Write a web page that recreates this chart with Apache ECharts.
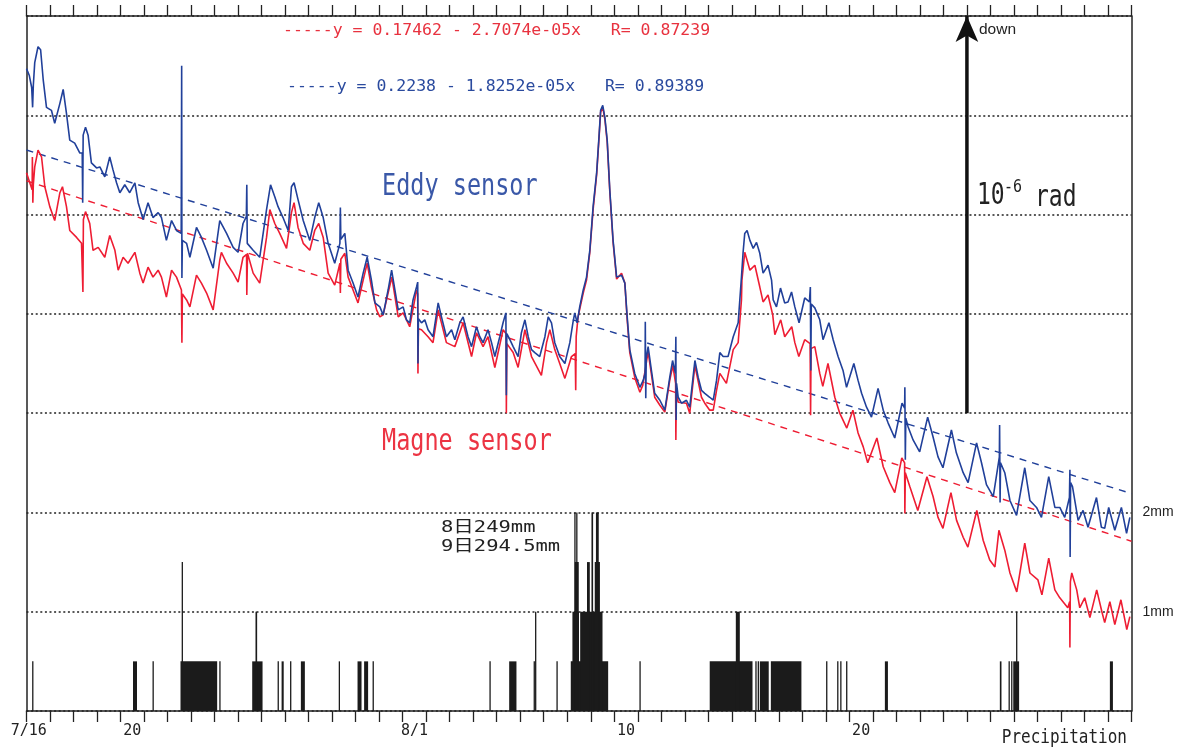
<!DOCTYPE html>
<html><head><meta charset="utf-8">
<script src="https://cdn.jsdelivr.net/npm/echarts@6/dist/echarts.min.js"></script>
<style>html,body{margin:0;padding:0;background:#fff}#c{width:1181px;height:751px}</style>
</head><body><div id="c"></div>
<script>
// ---- categories (one per day, 7/16 .. 8/31) ----
const days = ['7/16','7/17','7/18','7/19','7/20','7/21','7/22','7/23','7/24','7/25','7/26','7/27','7/28','7/29','7/30','7/31',
  '8/1','8/2','8/3','8/4','8/5','8/6','8/7','8/8','8/9','8/10','8/11','8/12','8/13','8/14','8/15','8/16','8/17','8/18','8/19',
  '8/20','8/21','8/22','8/23','8/24','8/25','8/26','8/27','8/28','8/29','8/30','8/31'];
const labeledDays = ['7/16','7/20','8/1','8/10','8/20'];

// ---- Eddy sensor: [day since 7/16 0:00, tilt (grid units, 4 units = 1e-6 rad)] ----
const eddy = [[0.00,6.47],[0.12,6.40],[0.22,6.28],[0.26,6.08],[0.29,6.30],[0.35,6.53],[0.49,6.69],[0.60,6.66],[0.71,6.36],[0.85,6.08],
[1.06,6.05],[1.20,5.92],[1.42,6.12],[1.56,6.26],[1.70,6.02],[1.84,5.75],[2.05,5.72],[2.27,5.62],[2.37,5.62],[2.39,5.12],[2.41,5.80],
[2.51,5.88],[2.62,5.80],[2.76,5.52],[2.98,5.47],[3.12,5.48],[3.33,5.38],[3.54,5.58],[3.68,5.45],[3.83,5.32],[3.97,5.22],[4.18,5.30],
[4.39,5.22],[4.61,5.32],[4.75,5.12],[4.96,4.95],[5.17,5.12],[5.38,4.97],[5.60,5.02],[5.74,4.97],[5.95,4.74],[6.17,4.94],[6.38,4.84],
[6.58,4.81],[6.60,6.50],[6.61,4.36],[6.63,4.74],[6.81,4.71],[6.95,4.57],[7.23,4.87],[7.44,4.77],[7.66,4.64],[7.94,4.46],[8.22,4.94],
[8.51,4.81],[8.79,4.67],[9.00,4.62],[9.21,4.91],[9.35,4.98],[9.37,5.30],[9.39,4.71],[9.64,4.64],[9.92,4.57],[10.21,5.05],[10.38,5.30],
[10.56,5.18],[10.70,5.08],[10.91,4.97],[11.13,4.84],[11.27,5.28],[11.38,5.32],[11.55,5.15],[11.77,4.94],[12.05,4.74],[12.26,4.97],
[12.43,5.12],[12.62,4.97],[12.83,4.71],[13.11,4.51],[13.33,4.71],[13.35,5.07],[13.37,4.75],[13.54,4.81],[13.68,4.44],[13.89,4.31],
[14.10,4.17],[14.32,4.41],[14.49,4.57],[14.67,4.34],[14.82,4.11],[15.03,4.07],[15.17,3.99],[15.38,4.24],[15.53,4.44],[15.81,4.04],
[16.02,4.07],[16.16,3.94],[16.30,3.91],[16.44,4.14],[16.59,4.27],[16.64,4.32],[16.65,3.50],[16.67,3.95],[16.80,3.91],[16.94,3.94],
[17.08,3.84],[17.29,3.77],[17.51,4.11],[17.65,3.97],[17.86,3.77],[18.08,3.84],[18.22,3.74],[18.43,3.91],[18.57,3.97],[18.78,3.77],
[18.93,3.67],[19.14,3.87],[19.28,3.77],[19.42,3.71],[19.63,3.84],[19.78,3.71],[19.92,3.57],[20.13,3.77],[20.27,3.91],[20.39,4.01],
[20.41,3.18],[20.43,3.80],[20.56,3.74],[20.70,3.67],[20.91,3.57],[21.05,3.81],[21.20,3.94],[21.34,3.77],[21.48,3.64],[21.62,3.61],
[21.83,3.57],[22.05,3.77],[22.19,3.97],[22.33,3.91],[22.47,3.71],[22.68,3.57],[22.90,3.50],[23.11,3.71],[23.24,3.91],[23.32,4.01],
[23.42,3.91],[23.53,4.07],[23.68,4.24],[23.82,4.37],[23.96,4.64],[24.10,5.08],[24.25,5.42],[24.36,5.82],[24.42,6.05],[24.51,6.10],
[24.60,5.98],[24.70,5.75],[24.81,5.25],[24.95,4.74],[25.10,4.37],[25.31,4.39],[25.45,4.31],[25.55,3.97],[25.66,3.64],[25.87,3.40],
[26.09,3.26],[26.23,3.33],[26.31,3.40],[26.32,3.92],[26.34,3.15],[26.36,3.55],[26.44,3.67],[26.58,3.43],[26.72,3.20],[26.94,3.13],
[27.15,3.03],[27.36,3.36],[27.48,3.53],[27.60,3.40],[27.62,3.77],[27.63,2.93],[27.65,3.30],[27.72,3.16],[27.86,3.10],[28.07,3.13],
[28.21,3.06],[28.43,3.53],[28.57,3.36],[28.71,3.23],[28.85,3.20],[29.06,3.16],[29.21,3.13],[29.35,3.33],[29.49,3.61],[29.63,3.57],
[29.84,3.57],[30.06,3.77],[30.27,3.91],[30.41,4.37],[30.48,4.62],[30.55,4.81],[30.65,4.84],[30.77,4.74],[30.91,4.66],[31.05,4.72],
[31.19,4.61],[31.33,4.41],[31.54,4.49],[31.69,4.34],[31.76,4.14],[31.90,4.07],[32.07,4.26],[32.25,4.11],[32.39,4.12],[32.54,4.22],
[32.68,4.07],[32.86,3.91],[33.10,4.16],[33.30,4.12],[33.34,4.27],[33.36,3.43],[33.38,4.10],[33.53,4.06],[33.74,3.94],[33.88,3.74],
[34.13,3.91],[34.31,3.74],[34.52,3.57],[34.73,3.43],[34.88,3.26],[35.19,3.50],[35.37,3.33],[35.52,3.20],[35.73,3.06],[35.94,2.96],
[36.22,3.25],[36.44,3.03],[36.65,2.90],[36.93,2.75],[37.24,3.10],[37.35,3.05],[37.36,3.26],[37.38,2.53],[37.40,2.95],[37.50,2.86],
[37.71,2.73],[37.99,2.61],[38.33,2.96],[38.56,2.76],[38.77,2.56],[38.98,2.45],[39.34,2.83],[39.55,2.60],[39.84,2.40],[40.05,2.30],
[40.41,2.70],[40.62,2.50],[40.83,2.28],[41.12,2.16],[41.38,2.56],[41.39,2.88],[41.41,2.10],[41.43,2.50],[41.61,2.40],[41.83,2.12],
[42.11,1.97],[42.46,2.45],[42.68,2.12],[42.96,2.05],[43.17,1.95],[43.48,2.36],[43.74,2.05],[43.95,2.05],[44.16,1.95],[44.36,2.15],
[44.38,2.43],[44.39,1.55],[44.41,2.30],[44.49,2.26],[44.73,1.92],[44.94,2.02],[45.15,1.85],[45.51,2.15],[45.72,1.85],[45.86,1.84],
[46.03,2.05],[46.29,1.82],[46.57,2.05],[46.79,1.79],[46.93,1.95]];

// ---- Magne sensor ----
const magne = [[0.00,5.42],[0.14,5.32],[0.24,5.25],[0.25,5.58],[0.27,5.12],[0.29,5.30],[0.35,5.48],[0.49,5.65],[0.64,5.58],[0.78,5.28],
[0.99,5.08],[1.20,4.94],[1.42,5.22],[1.53,5.28],[1.70,5.08],[1.84,4.84],[2.13,4.77],[2.34,4.71],[2.39,4.71],[2.40,4.22],[2.42,4.95],
[2.51,5.03],[2.69,4.91],[2.83,4.64],[3.05,4.67],[3.33,4.57],[3.54,4.79],[3.76,4.64],[3.90,4.44],[4.11,4.57],[4.32,4.51],[4.61,4.62],
[4.82,4.41],[4.96,4.31],[5.17,4.47],[5.38,4.37],[5.60,4.44],[5.74,4.37],[5.95,4.17],[6.17,4.44],[6.38,4.37],[6.59,4.24],[6.61,3.71],
[6.63,4.20],[6.81,4.14],[6.95,4.07],[7.23,4.39],[7.44,4.31],[7.66,4.21],[7.94,4.04],[8.22,4.54],[8.29,4.62],[8.51,4.51],[8.79,4.41],
[9.00,4.32],[9.21,4.57],[9.36,4.60],[9.37,4.19],[9.40,4.61],[9.64,4.41],[9.92,4.31],[10.21,4.77],[10.35,5.05],[10.56,4.91],[10.77,4.81],
[11.06,4.66],[11.27,5.02],[11.38,5.12],[11.55,4.87],[11.77,4.71],[12.05,4.64],[12.26,4.84],[12.43,4.91],[12.62,4.77],[12.83,4.41],
[13.11,4.29],[13.33,4.51],[13.35,4.21],[13.37,4.55],[13.54,4.61],[13.68,4.37],[13.89,4.24],[14.10,4.11],[14.32,4.34],[14.49,4.51],
[14.67,4.27],[14.89,4.04],[15.03,3.97],[15.17,3.99],[15.38,4.21],[15.54,4.37],[15.81,3.97],[16.02,4.01],[16.30,3.87],[16.59,4.24],
[16.64,4.20],[16.65,3.40],[16.67,3.85],[16.80,3.84],[17.08,3.77],[17.29,3.71],[17.51,4.04],[17.86,3.71],[18.22,3.67],[18.57,3.91],
[18.93,3.57],[19.14,3.81],[19.42,3.67],[19.63,3.77],[19.92,3.46],[20.27,3.84],[20.40,3.80],[20.41,3.00],[20.43,3.70],[20.70,3.61],
[20.91,3.46],[21.20,3.84],[21.48,3.57],[21.90,3.38],[22.12,3.71],[22.26,3.84],[22.47,3.64],[22.68,3.50],[22.90,3.35],[23.18,3.57],
[23.34,3.60],[23.36,3.23],[23.38,3.77],[23.46,3.97],[23.68,4.21],[23.82,4.34],[23.96,4.62],[24.10,5.05],[24.25,5.40],[24.36,5.80],
[24.42,6.03],[24.51,6.08],[24.60,5.96],[24.70,5.73],[24.81,5.23],[24.95,4.72],[25.10,4.35],[25.31,4.41],[25.45,4.31],[25.55,3.94],
[25.66,3.61],[25.87,3.36],[26.09,3.21],[26.21,3.28],[26.44,3.62],[26.72,3.16],[26.94,3.08],[27.15,3.01],[27.36,3.33],[27.49,3.48],
[27.61,3.30],[27.62,2.73],[27.64,3.20],[27.72,3.11],[28.07,3.10],[28.21,3.00],[28.43,3.48],[28.71,3.16],[28.85,3.10],[29.06,3.03],
[29.21,3.03],[29.35,3.23],[29.49,3.40],[29.77,3.30],[30.06,3.64],[30.27,3.71],[30.41,4.14],[30.43,4.34],[30.55,4.62],[30.77,4.44],
[30.98,4.49],[31.19,4.27],[31.33,4.12],[31.54,4.19],[31.74,3.99],[31.83,3.79],[32.08,3.94],[32.25,3.77],[32.55,3.87],[32.68,3.71],
[32.85,3.57],[33.10,3.74],[33.33,3.70],[33.35,2.98],[33.37,3.65],[33.53,3.67],[33.74,3.40],[33.87,3.27],[34.09,3.50],[34.38,3.16],
[34.59,3.00],[34.89,2.85],[35.15,3.03],[35.37,2.80],[35.59,2.66],[35.78,2.50],[36.17,2.75],[36.44,2.46],[36.72,2.30],[36.93,2.20],
[37.23,2.55],[37.35,2.50],[37.36,1.99],[37.38,2.40],[37.57,2.26],[37.91,2.02],[38.30,2.36],[38.56,2.16],[38.77,1.95],[38.98,1.84],
[39.32,2.20],[39.56,1.92],[39.84,1.75],[40.04,1.65],[40.42,2.02],[40.69,1.72],[40.97,1.52],[41.19,1.45],[41.36,1.82],[41.61,1.62],
[41.83,1.39],[42.12,1.20],[42.46,1.69],[42.68,1.39],[43.02,1.32],[43.19,1.17],[43.48,1.54],[43.74,1.22],[43.95,1.14],[44.29,1.04],
[44.37,1.10],[44.38,0.64],[44.40,1.30],[44.46,1.39],[44.67,1.22],[44.80,1.04],[45.01,1.14],[45.23,0.94],[45.52,1.22],[45.74,1.00],
[45.86,0.89],[46.08,1.10],[46.29,0.87],[46.55,1.12],[46.80,0.82],[46.93,0.95]];

// ---- regression (dashed) lines: values at start / end of period ----
const trendDays = [0, 47];
const eddyTrend = [5.65, 2.19];
const magneTrend = [5.34, 1.71];

// ---- precipitation: [start day, end day, mm] (values above 2 mm shown clipped at 2) ----
const rain = [[0.24,0.29,0.5],[4.53,4.70,0.5],[5.36,5.41,0.5],[6.55,8.11,0.5],[6.60,6.65,1.5],[8.20,8.25,0.5],
[9.60,10.04,0.5],[9.74,9.81,1.0],[10.68,10.73,0.5],[10.85,10.94,0.5],[11.21,11.26,0.5],[11.67,11.84,0.5],[13.28,13.33,0.5],
[14.08,14.25,0.5],[14.36,14.53,0.5],[14.72,14.77,0.5],[19.69,19.74,0.5],[20.53,20.84,0.5],[21.57,21.62,0.5],[21.63,21.68,1.0],
[22.54,22.59,0.5],[23.15,24.74,0.5],[23.22,23.50,1.0],[23.55,24.50,1.0],[23.32,23.49,1.5],[23.84,23.96,1.5],[24.17,24.39,1.5],
[23.30,23.34,2.0],[23.38,23.42,2.0],[24.03,24.10,2.0],[24.22,24.34,2.0],[26.07,26.12,0.5],[29.06,30.88,0.5],[30.17,30.34,1.0],
[31.00,31.05,0.5],[31.10,31.15,0.5],[31.19,31.57,0.5],[31.66,32.96,0.5],[34.01,34.06,0.5],[34.48,34.53,0.5],[34.61,34.66,0.5],
[34.86,34.91,0.5],[36.51,36.64,0.5],[41.40,41.47,0.5],[41.77,41.82,0.5],[41.88,41.93,0.5],[41.97,42.22,0.5],[42.09,42.14,1.0],
[46.08,46.21,0.5]];

// ---- scale arrow (1e-6 rad = 4 grid units) ----
const arrowDay = 40;
const arrowRange = [3, 7];

const BLUE = '#21409a', RED = '#ee1d33';
const MONO = "'DejaVu Sans Mono', monospace";

const chart = echarts.init(document.getElementById('c'), null, {renderer: 'canvas'});
chart.setOption({
  animation: false,
  backgroundColor: '#fff',
  grid: {left: 26.5, right: 49.5, top: 16, bottom: 40, containLabel: false, outerBoundsMode: 'none'},
  xAxis: [
    {type: 'category', data: days, position: 'bottom', boundaryGap: true,
     axisLine: {onZero: false, lineStyle: {color: '#222', width: 1.5}},
     axisTick: {show: true, inside: false, interval: 0, length: 11, lineStyle: {color: '#222', width: 1.3}},
     axisLabel: {interval: 0, margin: 13, color: '#222', fontSize: 15, fontFamily: MONO,
       formatter: v => {
         if (!labeledDays.includes(v)) return '';
         if (v === '7/16') return '{first|7/16}';
         const d = v.split('/')[1];
         return d === '1' ? v : d;
       },
       rich: {first: {padding: [0, 19, 0, 0], fontSize: 15, fontFamily: MONO, color: '#222'}}},
     splitLine: {show: false}},
    {type: 'category', data: days, position: 'top', boundaryGap: true,
     axisLine: {onZero: false, lineStyle: {color: '#222', width: 1.5}},
     axisTick: {show: true, inside: false, interval: 0, length: 11, lineStyle: {color: '#222', width: 1.3}},
     axisLabel: {show: false}, splitLine: {show: false}},
    {type: 'value', min: 0, max: 47, show: false, axisLine: {onZero: false}}
  ],
  yAxis: [
    {type: 'value', min: 0, max: 7, interval: 1, position: 'left',
     axisLine: {show: true, onZero: false, lineStyle: {color: '#222', width: 1.5}},
     axisTick: {show: false}, axisLabel: {show: false},
     splitLine: {show: true, lineStyle: {color: '#222', width: 1.5, type: [2, 2.6]}}},
    {type: 'value', min: 0, max: 7, interval: 1, position: 'right',
     axisLine: {show: true, onZero: false, lineStyle: {color: '#222', width: 1.5}},
     axisTick: {show: false}, splitLine: {show: false},
     axisLabel: {margin: 11, color: '#222', fontSize: 14, fontFamily: "'Liberation Sans', Arial, sans-serif",
       formatter: v => (v === 1 ? '1mm' : v === 2 ? '2mm' : '')}}
  ],
  series: [
    {type: 'custom', name: 'Precipitation', xAxisIndex: 2, yAxisIndex: 1, z: 1,
     data: rain, encode: {x: [0, 1], y: 2},
     renderItem: (params, api) => {
       const p0 = api.coord([api.value(0), api.value(2)]);
       const p1 = api.coord([api.value(1), 0]);
       const w = Math.max(p1[0] - p0[0], 1.3);
       return {type: 'rect', shape: {x: p0[0], y: p0[1], width: w, height: p1[1] - p0[1]},
               style: {fill: '#1b1b1b'}};
     }},
    {type: 'line', name: 'Magne trend', xAxisIndex: 2, yAxisIndex: 0, z: 2, showSymbol: false, silent: true,
     data: trendDays.map((d, i) => [d, magneTrend[i]]),
     lineStyle: {color: RED, width: 1.4, type: [7, 6]}},
    {type: 'line', name: 'Eddy trend', xAxisIndex: 2, yAxisIndex: 0, z: 2, showSymbol: false, silent: true,
     data: trendDays.map((d, i) => [d, eddyTrend[i]]),
     lineStyle: {color: BLUE, width: 1.4, type: [7, 6]}},
    {type: 'line', name: 'Magne sensor', xAxisIndex: 2, yAxisIndex: 0, z: 3, showSymbol: false,
     data: magne, lineStyle: {color: RED, width: 1.6}},
    {type: 'line', name: 'Eddy sensor', xAxisIndex: 2, yAxisIndex: 0, z: 4, showSymbol: false,
     data: eddy, lineStyle: {color: BLUE, width: 1.6}},
    {type: 'line', name: 'scale', xAxisIndex: 2, yAxisIndex: 0, z: 5, silent: true, showSymbol: true,
     symbol: 'none', clip: false,
     data: [{value: [arrowDay, arrowRange[0]], symbol: 'none'},
            {value: [arrowDay, arrowRange[1]], symbol: 'arrow', symbolSize: [17, 26],
             itemStyle: {color: '#111'}}],
     itemStyle: {color: '#111'},
     lineStyle: {color: '#111', width: 3.5}}
  ],
  graphic: [
    {type: 'text', x: 283, y: 31, z: 10, style: {text: '-----y = 0.17462 - 2.7074e-05x   R= 0.87239',
      fill: '#e8323f', font: "16.5px 'DejaVu Sans Mono', monospace", textVerticalAlign: 'middle', verticalAlign: 'middle'}},
    {type: 'text', x: 287, y: 87, z: 10, style: {text: '-----y = 0.2238 - 1.8252e-05x   R= 0.89389',
      fill: '#2a4a9e', font: "16.5px 'DejaVu Sans Mono', monospace", textVerticalAlign: 'middle', verticalAlign: 'middle'}},
    {type: 'text', x: 382, y: 187, scaleY: 1.25, z: 10, style: {text: 'Eddy sensor', fill: '#3a58a8',
      font: "23.5px 'DejaVu Sans Mono', monospace", textVerticalAlign: 'middle', verticalAlign: 'middle'}},
    {type: 'text', x: 382, y: 442, scaleY: 1.25, z: 10, style: {text: 'Magne sensor', fill: '#ec3443',
      font: "23.5px 'DejaVu Sans Mono', monospace", textVerticalAlign: 'middle', verticalAlign: 'middle'}},
    {type: 'text', x: 977, y: 196, scaleY: 1.3, z: 10, style: {text: '10', fill: '#222',
      font: "23px 'DejaVu Sans Mono', monospace", textVerticalAlign: 'middle', verticalAlign: 'middle'}},
    {type: 'text', x: 1004, y: 187, scaleY: 1.2, z: 10, style: {text: '-6', fill: '#222',
      font: "15px 'DejaVu Sans Mono', monospace", textVerticalAlign: 'middle', verticalAlign: 'middle'}},
    {type: 'text', x: 1035, y: 198, scaleY: 1.3, z: 10, style: {text: 'rad', fill: '#222',
      font: "23px 'DejaVu Sans Mono', monospace", textVerticalAlign: 'middle', verticalAlign: 'middle'}},
    {type: 'text', x: 979, y: 30, z: 10, style: {text: 'down', fill: '#222',
      font: "15.5px 'Liberation Sans', Arial, sans-serif", textVerticalAlign: 'middle', verticalAlign: 'middle'}},
    {type: 'text', x: 441, y: 528, scaleX: 1.28, z: 10, style: {text: '8日249mm', fill: '#222',
      font: "16px 'DejaVu Sans Mono', 'Noto Sans CJK JP', monospace", textVerticalAlign: 'middle', verticalAlign: 'middle'}},
    {type: 'text', x: 441, y: 547, scaleX: 1.28, z: 10, style: {text: '9日294.5mm', fill: '#222',
      font: "16px 'DejaVu Sans Mono', 'Noto Sans CJK JP', monospace", textVerticalAlign: 'middle', verticalAlign: 'middle'}},
    {type: 'text', x: 1127, y: 738, scaleY: 1.25, z: 10, style: {text: 'Precipitation', fill: '#222',
      font: "16px 'DejaVu Sans Mono', monospace", textAlign: 'right', align: 'right',
      textVerticalAlign: 'middle', verticalAlign: 'middle'}}
  ]
});
</script>
</body></html>
